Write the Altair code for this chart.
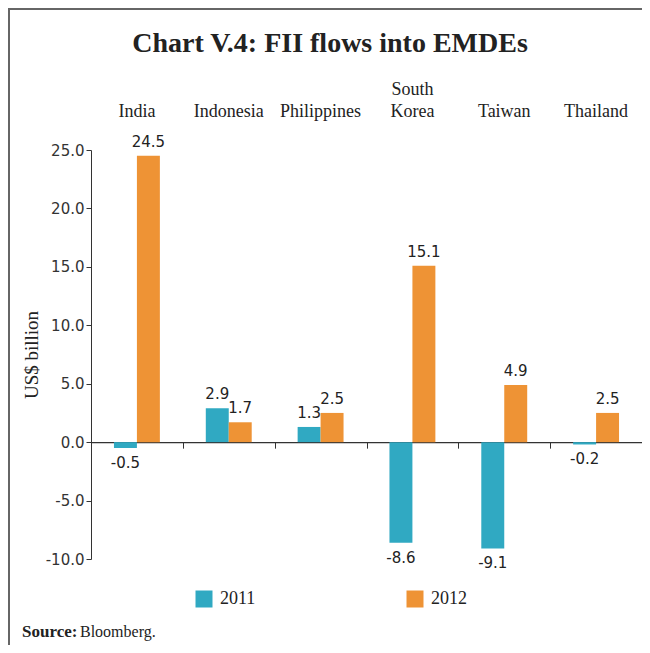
import altair as alt
import pandas as pd

countries = ["India", "Indonesia", "Philippines", "South Korea", "Taiwan", "Thailand"]
vals_2011 = [-0.5, 2.9, 1.3, -8.6, -9.1, -0.2]
vals_2012 = [24.5, 1.7, 2.5, 15.1, 4.9, 2.5]
years = ["2011", "2012"]
y_ticks = [-10, -5, 0, 5, 10, 15, 20, 25]
title_text = ["Chart V.4: FII flows into EMDEs"]
y_title = "US$  billion"
source_bold = ["Source:"]
source_rest = ["Bloomberg."]

TEAL = "#30a9c2"
ORANGE = "#ee9335"
SERIF = "Liberation Serif"
SANS = "DejaVu Sans"
W, H = 551, 409
Y_MIN, Y_MAX = -10, 25
MINUS = "\u2212"

rows = []
for c, a, b in zip(countries, vals_2011, vals_2012):
    rows.append({"country": c, "year": "2011", "value": a, "label": f"{a:.1f}"})
    rows.append({"country": c, "year": "2012", "value": b, "label": f"{b:.1f}"})
df = pd.DataFrame(rows)

x_scale = alt.Scale(domain=countries, paddingInner=0, paddingOuter=0)
xo_scale = alt.Scale(domain=years, paddingInner=0, paddingOuter=1)
y_scale = alt.Scale(domain=[Y_MIN, Y_MAX], nice=False, zero=False)

y_axis = alt.Axis(values=y_ticks, format=".1f", grid=False,
                  labelExpr=f"replace(datum.label, '{MINUS}', '-')",
                  labelFont=SANS, labelFontSize=15, labelColor="#333",
                  tickSize=5, tickColor="#333", domainColor="#333",
                  title=y_title, titleFont=SERIF, titleFontSize=19,
                  titleFontWeight="normal", titleColor="#222",
                  titlePadding=4)

base = alt.Chart(df)

bars = base.mark_bar().encode(
    x=alt.X("country:N", scale=x_scale, sort=countries,
            axis=alt.Axis(orient="top", title=None, domain=False, ticks=False,
                          labelAngle=0, labelPadding=52, labelBaseline="bottom",
                          labelExpr="length(split(datum.label, ' ')) > 1 ? split(datum.label, ' ') : ['', datum.label]",
                          labelFont=SERIF, labelFontSize=18, labelColor="#222",
                          labelLineHeight=22)),
    xOffset=alt.XOffset("year:N", scale=xo_scale),
    y=alt.Y("value:Q", scale=y_scale, axis=y_axis),
    color=alt.Color("year:N", scale=alt.Scale(domain=years, range=[TEAL, ORANGE]),
                    legend=alt.Legend(orient="none", legendX=104, legendY=440,
                                      direction="horizontal", title=None,
                                      symbolType="square", symbolSize=289,
                                      symbolStrokeWidth=0, symbolOpacity=1,
                                      labelFont=SERIF, labelFontSize=18,
                                      labelColor="#222", labelOffset=7,
                                      columnPadding=150)),
)

pos_text = base.transform_filter("datum.value >= 0").mark_text(
    baseline="bottom", dy=-6, font=SANS, fontSize=15, color="#222"
).encode(
    x=alt.X("country:N", scale=x_scale, sort=countries, axis=None),
    xOffset=alt.XOffset("year:N", scale=xo_scale),
    y=alt.Y("value:Q", scale=y_scale, axis=y_axis),
    text=alt.Text("label:N"),
)

neg_text = base.transform_filter("datum.value < 0").mark_text(
    baseline="top", dy=8, font=SANS, fontSize=15, color="#222"
).encode(
    x=alt.X("country:N", scale=x_scale, sort=countries, axis=None),
    xOffset=alt.XOffset("year:N", scale=xo_scale),
    y=alt.Y("value:Q", scale=y_scale, axis=y_axis),
    text=alt.Text("label:N"),
)

zero_axis = base.mark_tick(opacity=0).encode(
    x=alt.X("country:N", scale=x_scale, sort=countries,
            axis=alt.Axis(orient="bottom", title=None, labels=False,
                          domain=True, domainColor="#333", domainWidth=1.2,
                          ticks=True, tickBand="extent", tickSize=6,
                          tickColor="#333",
                          offset=-(0 - Y_MIN) / (Y_MAX - Y_MIN) * H)),
    y=alt.Y("value:Q", scale=y_scale, axis=y_axis),
)

title_mark = alt.Chart(pd.DataFrame({"t": title_text})).mark_text(
    align="center", baseline="alphabetic", font=SERIF, fontSize=28,
    fontWeight="bold", color="#222"
).encode(text="t:N", x=alt.value(239), y=alt.value(-98))

src1 = alt.Chart(pd.DataFrame({"t": source_bold})).mark_text(
    align="left", baseline="alphabetic", font=SERIF, fontSize=17,
    fontWeight="bold", color="#222"
).encode(text="t:N", x=alt.value(-69), y=alt.value(487))

src2 = alt.Chart(pd.DataFrame({"t": source_rest})).mark_text(
    align="left", baseline="alphabetic", font=SERIF, fontSize=16, color="#222"
).encode(text="t:N", x=alt.value(-11), y=alt.value(487))

frame_df = pd.DataFrame({"k": [0]})
frame_left = alt.Chart(frame_df).mark_rule(color="#666", strokeWidth=2).encode(
    x=alt.value(-82), y=alt.value(-141), y2=alt.value(H + 90))
frame_top = alt.Chart(frame_df).mark_rule(color="#666", strokeWidth=2).encode(
    x=alt.value(-83), x2=alt.value(W + 5), y=alt.value(-141))

chart = alt.layer(
    bars, pos_text, neg_text, zero_axis, title_mark, src1, src2, frame_left, frame_top
).resolve_axis(x="independent").properties(
    width=W, height=H,
    autosize=alt.AutoSizeParams(type="none"),
    padding={"left": 83, "top": 142, "right": 0, "bottom": 86},
).configure_view(stroke=None)

chart.save("out.html", embed_options={"renderer": "svg", "actions": False})
